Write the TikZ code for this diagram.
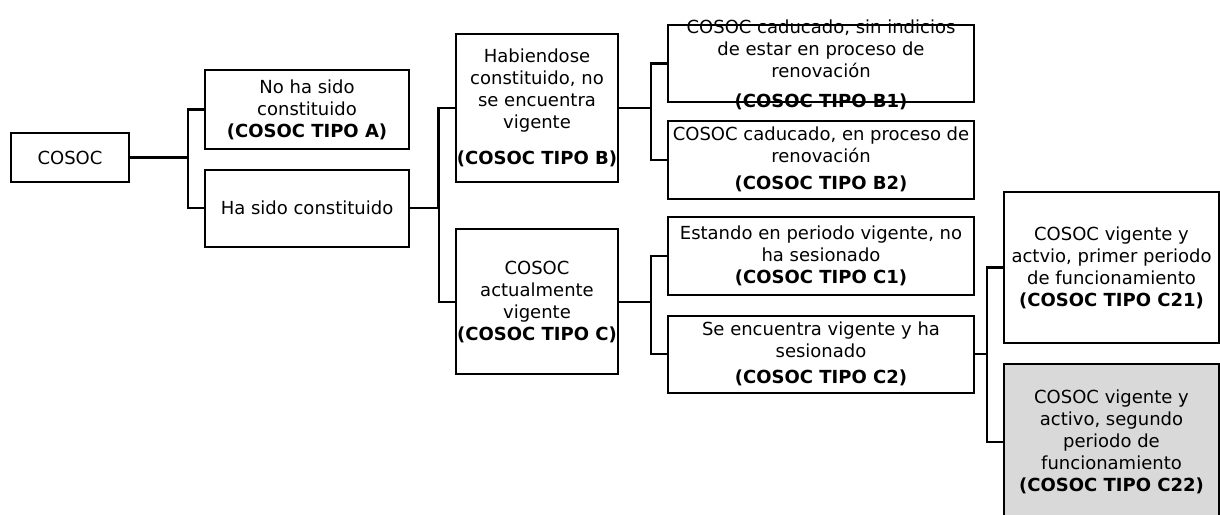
\documentclass[tikz,border=0pt]{standalone}
\usepackage{fontspec}
\setmainfont{DejaVu Sans}
\usetikzlibrary{positioning}

% text that may run over the border of its box
\newcommand{\smashtext}[1]{\raisebox{\dimexpr-0.25em-2.5pt\relax}[0pt][0pt]{\begin{tabular}{@{}c@{}}#1\end{tabular}}}

\begin{document}
\begin{tikzpicture}[x=0.75pt, y=-0.75pt,
    box/.style={draw, line width=1.5pt, align=center, inner sep=1pt,
      font=\fontsize{13.5pt}{16.5pt}\selectfont},
    link/.style={line width=1.7pt},
    fork/.style={to path={(\tikztostart.east) -| ([xshift=-12pt]\tikztotarget.west) -- (\tikztotarget.west)}}]
    \useasboundingbox (0,0) rectangle (1220,514);

    \node[box, minimum width=88.5pt, minimum height=36.75pt] (cosoc) at (70,157.5) {COSOC};

    \node[box, minimum width=153pt, minimum height=59.25pt] (noha) at (307,109.5)
        {No ha sido\\constituido\\\textbf{(COSOC TIPO A)}};
    \node[box, minimum width=153pt, minimum height=57.75pt, below=14pt of noha] (hasido)
        {Ha sido constituido};

    \node[box, minimum width=120pt, minimum height=111pt] (tipob) at (537,108)
        {Habiendose\\constituido, no\\se encuentra\\vigente\\[10pt]\textbf{(COSOC TIPO B)}};
    \node[box, minimum width=120pt, minimum height=108.75pt, below=34pt of tipob] (tipoc)
        {COSOC\\actualmente\\vigente\\\textbf{(COSOC TIPO C)}};

    \node[box, minimum width=229.5pt, minimum height=57.75pt] (b1) at (821,63.5)
        {\smashtext{COSOC caducado, sin indicios\\de estar en proceso de\\renovación\\[6pt]\textbf{(COSOC TIPO B1)}}};
    \node[box, minimum width=229.5pt, minimum height=58.5pt, below=12.5pt of b1] (b2)
        {COSOC caducado, en proceso de\\renovación\\[4pt]\textbf{(COSOC TIPO B2)}};

    \node[box, minimum width=229.5pt, minimum height=58.5pt] (c1) at (821,256)
        {Estando en periodo vigente, no\\ha sesionado\\\textbf{(COSOC TIPO C1)}};
    \node[box, minimum width=229.5pt, minimum height=57.75pt, below=14pt of c1] (c2)
        {Se encuentra vigente y ha\\sesionado\\[3pt]\textbf{(COSOC TIPO C2)}};

    \node[box, minimum width=161.25pt, minimum height=113.25pt] (c21) at (1111.5,267.5)
        {COSOC vigente y\\actvio, primer periodo\\de funcionamiento\\\textbf{(COSOC TIPO C21)}};
    \node[box, fill=black!15, minimum width=161.25pt, minimum height=117pt, below=14.5pt of c21] (c22)
        {COSOC vigente y\\activo, segundo\\periodo de\\funcionamiento\\\textbf{(COSOC TIPO C22)}};

    \draw[link] (cosoc) to[fork] (noha)
          (cosoc) to[fork] (hasido)
          (hasido) to[fork] (tipob)
          (hasido) to[fork] (tipoc)
          (tipob) to[fork] (b1)
          (tipob) to[fork] (b2)
          (tipoc) to[fork] (c1)
          (tipoc) to[fork] (c2)
          (c2) to[fork] (c21)
          (c2) to[fork] (c22);
\end{tikzpicture}
\end{document}
